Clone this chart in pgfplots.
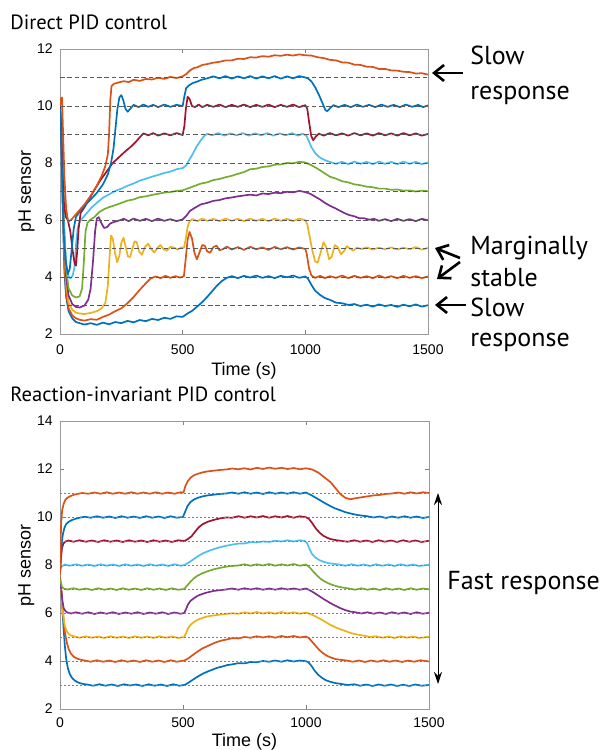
\documentclass[border=0pt]{standalone}
\usepackage{fontspec}
\setmainfont{Liberation Sans}
\newfontfamily\ptsans{PT Sans}
\usepackage{pgfplots}
\pgfplotsset{compat=1.18}
\usetikzlibrary{arrows.meta}

\definecolor{mblue}{rgb}{0,0.447,0.741}
\definecolor{morange}{rgb}{0.850,0.325,0.098}
\definecolor{myellow}{rgb}{0.929,0.694,0.125}
\definecolor{mpurple}{rgb}{0.494,0.184,0.556}
\definecolor{mgreen}{rgb}{0.466,0.674,0.188}
\definecolor{mcyan}{rgb}{0.301,0.745,0.933}
\definecolor{mred}{rgb}{0.635,0.078,0.184}

\pgfplotsset{
  panel/.style={
    scale only axis, no markers,
    xmin=0, xmax=1500, xtick={0,500,1000,1500},
    axis line style={black!40},
    tick style={black!50}, major tick length=2pt, tick align=inside,
    ticklabel style={font=\fontsize{7}{8}\selectfont, inner sep=0pt},
    yticklabel style={anchor=east, xshift=-3.5pt},
    xticklabel style={anchor=north},
    /pgf/number format/assume math mode=true,
    /pgf/number format/1000 sep={},
    xlabel={Time (s)}, ylabel={pH sensor},
    label style={font=\fontsize{9}{10}\selectfont, anchor=center},
    every axis plot/.append style={line width=0.85pt, line join=round},
  },
}

\begin{document}
\begin{tikzpicture}
\path[use as bounding box] (0,0) rectangle (301.5pt,375pt);

% ---------------- top: direct PID ----------------
\begin{axis}[panel, at={(30pt,208pt)}, anchor=south west, width=184pt, height=142.5pt,
  ymin=2, ymax=12, ytick={2,4,...,12},
  xticklabel style={yshift=-5pt},
  xlabel style={at={(axis description cs:0.5,-0.13)}},
  ylabel style={at={(axis description cs:-0.091,0.5)}}]
% setpoint 3/4/3
\addplot[mblue] coordinates {(0,9.8)(6,8.5)(12,6.0)(18,4.2)(25,3.3)(35,2.8)(50,2.55)(65,2.42)(80,2.38)(100,2.33)(125,2.38)(150,2.32)(175,2.4)(200,2.34)(225,2.42)(250,2.38)(275,2.46)(300,2.41)(325,2.49)(350,2.45)(375,2.53)(400,2.49)(425,2.57)(450,2.53)(475,2.62)(500,2.6)(520,2.72)(540,2.82)(560,2.97)(580,3.12)(600,3.3)(620,3.5)(640,3.7)(660,3.86)(680,3.97)(700,4.03)(725,3.96)(750,4.04)(775,3.98)(800,4.05)(825,3.97)(850,4.03)(875,3.96)(900,4.04)(925,3.99)(950,4.05)(975,3.97)(1000,4.02)(1010,3.95)(1025,3.72)(1040,3.52)(1060,3.37)(1080,3.26)(1100,3.2)(1125,3.1)(1150,3.08)(1175,3.02)(1200,3.05)(1225,2.98)(1250,3.03)(1275,2.96)(1300,3.04)(1325,2.98)(1350,3.02)(1375,2.95)(1400,3.03)(1425,2.97)(1450,3.04)(1475,2.96)(1500,3.01)};
% setpoint 4/5/4
\addplot[morange] coordinates {(0,10.0)(6,8.8)(12,6.5)(18,4.5)(25,3.4)(35,2.9)(50,2.65)(65,2.55)(80,2.5)(100,2.47)(125,2.52)(150,2.5)(175,2.6)(200,2.68)(225,2.8)(250,2.9)(275,3.08)(300,3.3)(325,3.55)(350,3.78)(370,3.95)(390,4.02)(410,3.96)(430,4.04)(450,3.97)(470,4.03)(490,3.98)(505,4.03)(512,4.6)(520,5.3)(528,5.58)(538,5.35)(548,4.85)(558,4.62)(568,4.85)(580,5.12)(590,5.1)(600,4.9)(612,4.85)(625,5.05)(638,5.1)(650,4.94)(665,4.98)(680,5.07)(700,4.96)(725,5.05)(750,4.95)(775,5.06)(800,4.97)(825,5.04)(850,4.95)(875,5.06)(900,4.97)(925,5.05)(950,4.96)(975,5.04)(1000,4.98)(1006,4.8)(1015,4.3)(1025,4.05)(1040,3.97)(1060,4.04)(1080,3.96)(1100,4.03)(1125,3.97)(1150,4.05)(1175,3.96)(1200,4.04)(1225,3.97)(1250,4.03)(1275,3.96)(1300,4.05)(1325,3.97)(1350,4.03)(1375,3.96)(1400,4.04)(1425,3.97)(1450,4.03)(1475,3.96)(1500,4.02)};
% setpoint 5/6/5
\addplot[myellow] coordinates {(0,10.0)(6,9.0)(12,7.0)(18,5.0)(25,3.8)(35,3.1)(50,2.85)(65,2.75)(80,2.72)(100,2.7)(125,2.74)(150,2.8)(170,2.9)(185,3.1)(195,3.7)(202,4.7)(208,5.45)(215,5.35)(224,4.85)(233,4.52)(242,4.75)(250,5.2)(259,5.38)(268,5.05)(277,4.72)(286,4.7)(295,5.0)(304,5.25)(313,5.22)(322,4.9)(334,4.78)(346,5.05)(359,5.17)(372,4.98)(384,4.86)(397,5.02)(409,5.12)(422,4.98)(435,4.92)(450,5.06)(465,5.03)(480,4.96)(495,5.04)(505,5.02)(512,5.3)(520,5.75)(528,5.96)(540,6.03)(560,5.96)(580,6.05)(600,5.97)(625,6.04)(650,5.96)(675,6.05)(700,5.97)(725,6.04)(750,5.96)(775,6.05)(800,5.97)(825,6.04)(850,5.96)(875,6.05)(900,5.97)(925,6.04)(950,5.96)(975,6.05)(1000,5.99)(1008,5.85)(1018,5.4)(1028,4.95)(1040,4.55)(1050,4.5)(1062,4.85)(1074,5.22)(1085,5.05)(1097,4.62)(1108,4.72)(1120,5.12)(1132,5.05)(1145,4.8)(1157,4.9)(1169,5.08)(1182,5.0)(1195,4.92)(1210,5.03)(1230,4.98)(1250,5.04)(1275,4.96)(1300,5.03)(1325,4.97)(1350,5.04)(1375,4.96)(1400,5.03)(1425,4.97)(1450,5.05)(1475,4.96)(1500,5.02)};
% setpoint 6/7/6
\addplot[mpurple] coordinates {(0,10.0)(6,9.0)(12,7.2)(18,5.2)(25,4.0)(35,3.35)(50,3.05)(65,2.95)(80,2.93)(100,3.0)(115,3.2)(125,3.6)(135,4.6)(143,5.6)(150,6.05)(158,6.1)(168,5.9)(180,5.72)(192,5.75)(205,5.88)(220,5.93)(240,5.98)(260,6.04)(280,5.96)(300,6.05)(325,5.97)(350,6.04)(375,5.96)(400,6.05)(425,5.97)(450,6.03)(475,5.96)(500,6.02)(515,6.15)(530,6.32)(550,6.43)(575,6.55)(600,6.6)(625,6.67)(650,6.7)(675,6.76)(700,6.79)(725,6.83)(750,6.86)(775,6.89)(800,6.86)(825,6.93)(850,6.91)(875,6.96)(900,6.94)(925,6.99)(950,6.97)(975,7.02)(1000,6.98)(1020,6.92)(1040,6.82)(1060,6.72)(1080,6.6)(1100,6.5)(1120,6.42)(1140,6.33)(1160,6.24)(1180,6.17)(1200,6.13)(1220,6.06)(1240,6.06)(1260,6.01)(1280,6.04)(1300,5.97)(1325,6.03)(1350,5.96)(1375,6.04)(1400,5.97)(1425,6.03)(1450,5.96)(1475,6.04)(1500,5.99)};
% setpoint 7/8/7
\addplot[mgreen] coordinates {(0,10.0)(6,9.2)(12,7.5)(18,5.6)(25,4.3)(35,3.6)(50,3.35)(65,3.28)(80,3.32)(90,3.6)(97,4.5)(104,5.6)(112,5.9)(125,6.02)(140,6.1)(160,6.28)(180,6.38)(200,6.45)(225,6.52)(250,6.6)(275,6.68)(300,6.72)(325,6.8)(350,6.83)(375,6.88)(400,6.92)(425,6.96)(450,6.98)(475,7.02)(500,7.04)(525,7.12)(550,7.2)(575,7.28)(600,7.32)(625,7.4)(650,7.44)(675,7.5)(700,7.55)(725,7.62)(750,7.68)(775,7.78)(800,7.8)(825,7.86)(850,7.88)(875,7.94)(900,7.95)(925,8.0)(950,7.99)(975,8.04)(1000,8.02)(1025,7.92)(1050,7.8)(1075,7.66)(1100,7.52)(1125,7.45)(1150,7.36)(1175,7.32)(1200,7.25)(1225,7.22)(1250,7.17)(1275,7.15)(1300,7.1)(1325,7.1)(1350,7.06)(1375,7.07)(1400,7.03)(1425,7.04)(1450,7.0)(1475,7.03)(1500,7.01)};
% setpoint 8/9/8
\addplot[mcyan] coordinates {(0,9.9)(6,8.8)(12,7.0)(18,5.4)(25,4.5)(32,4.05)(42,3.95)(52,4.05)(60,4.4)(66,5.2)(72,5.7)(80,5.95)(95,6.1)(110,6.25)(130,6.45)(150,6.6)(175,6.78)(200,6.9)(225,7.02)(250,7.1)(275,7.2)(300,7.28)(325,7.38)(350,7.45)(375,7.52)(400,7.58)(425,7.65)(450,7.7)(475,7.78)(500,7.82)(515,7.92)(525,8.08)(540,8.3)(555,8.55)(570,8.75)(585,8.92)(600,9.03)(620,8.97)(645,9.05)(670,8.96)(695,9.04)(720,8.97)(745,9.05)(770,8.96)(795,9.04)(820,8.97)(845,9.05)(870,8.96)(895,9.04)(920,8.97)(945,9.05)(970,8.96)(990,9.03)(1005,8.95)(1015,8.75)(1025,8.55)(1040,8.35)(1055,8.22)(1070,8.14)(1085,8.08)(1100,8.04)(1125,7.97)(1150,8.04)(1175,7.96)(1200,8.05)(1225,7.97)(1250,8.04)(1275,7.96)(1300,8.05)(1325,7.97)(1350,8.04)(1375,7.96)(1400,8.05)(1425,7.97)(1450,8.04)(1475,7.96)(1500,8.02)};
% setpoint 9/10/9
\addplot[mred] coordinates {(0,10.1)(5,9.2)(10,7.8)(16,6.6)(24,6.1)(32,6.0)(42,5.6)(52,4.9)(60,4.45)(65,4.4)(70,4.9)(76,5.7)(84,6.25)(100,6.45)(120,6.75)(140,7.05)(165,7.4)(190,7.7)(215,8.0)(240,8.2)(265,8.4)(290,8.58)(310,8.75)(325,8.9)(340,9.04)(360,8.97)(380,9.05)(400,8.96)(425,9.04)(450,8.97)(475,9.05)(500,8.98)(507,9.3)(513,9.9)(520,10.32)(528,10.25)(538,10.0)(550,9.96)(565,10.05)(580,9.96)(600,10.04)(625,9.97)(650,10.05)(675,9.96)(700,10.04)(725,9.97)(750,10.05)(775,9.96)(800,10.04)(825,9.97)(850,10.05)(875,9.96)(900,10.04)(925,9.97)(950,10.05)(975,9.96)(1000,10.03)(1008,9.9)(1016,9.4)(1024,8.95)(1032,8.8)(1042,8.92)(1055,9.03)(1075,8.96)(1100,9.05)(1125,8.97)(1150,9.04)(1175,8.96)(1200,9.05)(1225,8.97)(1250,9.04)(1275,8.96)(1300,9.05)(1325,8.97)(1350,9.04)(1375,8.96)(1400,9.05)(1425,8.97)(1450,9.04)(1475,8.96)(1500,9.02)};
% setpoint 10/11/10
\addplot[mblue] coordinates {(0,9.9)(5,8.8)(10,7.0)(16,5.4)(24,4.5)(32,4.1)(40,4.3)(48,5.0)(56,5.7)(65,6.1)(80,6.3)(100,6.5)(125,6.72)(150,6.95)(175,7.25)(195,7.6)(208,8.0)(218,8.5)(226,9.2)(234,9.9)(242,10.3)(250,10.38)(258,10.2)(267,9.9)(276,9.8)(288,9.92)(300,10.04)(320,9.96)(340,10.05)(360,9.97)(380,10.04)(400,9.96)(425,10.05)(450,9.97)(475,10.04)(500,10.0)(506,10.3)(514,10.62)(525,10.72)(540,10.8)(560,10.86)(580,10.93)(600,10.97)(625,11.04)(650,10.97)(675,11.05)(700,10.96)(725,11.04)(750,10.97)(775,11.05)(800,10.96)(825,11.04)(850,10.97)(875,11.05)(900,10.96)(925,11.04)(950,10.97)(975,11.05)(1000,11.0)(1012,10.96)(1025,10.86)(1040,10.66)(1055,10.4)(1070,10.1)(1082,9.85)(1090,9.82)(1100,9.92)(1115,10.03)(1135,9.96)(1160,10.04)(1185,9.96)(1210,10.05)(1235,9.97)(1260,10.04)(1285,9.96)(1310,10.05)(1335,9.97)(1360,10.04)(1385,9.96)(1410,10.05)(1435,9.97)(1460,10.04)(1480,9.96)(1500,10.02)};
% setpoint 11/12/11
\addplot[morange] coordinates {(0,10.0)(4,10.25)(8,10.3)(12,9.2)(18,7.5)(25,6.4)(33,5.95)(45,6.0)(60,6.15)(80,6.35)(100,6.55)(125,6.85)(150,7.2)(170,7.55)(185,7.9)(195,8.3)(200,9.0)(205,10.2)(210,10.7)(220,10.78)(240,10.83)(260,10.87)(280,10.84)(300,10.92)(325,10.88)(350,10.95)(375,10.93)(400,10.99)(425,10.95)(450,11.02)(475,10.98)(500,11.04)(515,11.12)(530,11.25)(545,11.33)(560,11.36)(580,11.44)(600,11.47)(625,11.52)(650,11.55)(675,11.6)(700,11.6)(725,11.66)(750,11.65)(775,11.71)(800,11.7)(825,11.75)(850,11.73)(875,11.78)(900,11.76)(925,11.8)(950,11.77)(975,11.81)(1000,11.78)(1025,11.77)(1050,11.71)(1075,11.68)(1100,11.62)(1125,11.6)(1150,11.53)(1175,11.52)(1200,11.45)(1225,11.44)(1250,11.38)(1275,11.37)(1300,11.3)(1325,11.3)(1350,11.25)(1375,11.24)(1400,11.2)(1425,11.19)(1450,11.14)(1475,11.15)(1500,11.1)};
\pgfplotsinvokeforeach{3,...,11}{
  \addplot[black!65, line width=0.45pt, dash pattern=on 2.3pt off 1.4pt] coordinates {(0,#1)(1500,#1)};
}
\end{axis}

% ---------------- bottom: reaction-invariant PID ----------------
\begin{axis}[panel, at={(30pt,20.5pt)}, anchor=south west, width=184.5pt, height=144pt,
  ymin=2, ymax=14, ytick={2,4,...,14},
  xticklabel style={yshift=-4pt},
  xlabel style={at={(axis description cs:0.5,-0.115)}},
  ylabel style={at={(axis description cs:-0.091,0.5)}}]
% setpoint 3/4/3
\addplot[mblue] coordinates {(0,7.5)(5,6.9)(10,6.1)(15,5.3)(20,4.6)(25,4.1)(32,3.7)(40,3.45)(50,3.28)(62,3.17)(75,3.1)(90,3.05)(110,3.02)(135,2.97)(160,3.03)(185,2.97)(210,3.02)(235,2.96)(260,3.03)(285,2.98)(310,3.02)(335,2.96)(360,3.03)(385,2.97)(410,3.02)(435,2.96)(460,3.03)(485,2.97)(505,3.0)(520,3.08)(540,3.22)(560,3.35)(580,3.47)(600,3.56)(620,3.64)(640,3.72)(660,3.77)(680,3.83)(700,3.86)(725,3.91)(750,3.9)(775,3.96)(800,3.95)(825,4.0)(850,3.97)(875,4.02)(900,3.97)(925,4.03)(950,3.98)(975,4.02)(1000,3.99)(1010,3.95)(1022,3.8)(1035,3.6)(1050,3.42)(1065,3.3)(1080,3.2)(1100,3.13)(1120,3.08)(1145,3.04)(1170,3.0)(1195,3.03)(1220,2.97)(1245,3.02)(1270,2.96)(1295,3.02)(1320,2.97)(1345,3.02)(1370,2.96)(1395,3.01)(1420,2.96)(1445,3.02)(1470,2.97)(1500,3.0)};
% setpoint 4/5/4
\addplot[morange] coordinates {(0,7.5)(5,7.0)(10,6.3)(15,5.7)(20,5.2)(27,4.8)(35,4.5)(45,4.3)(57,4.17)(70,4.1)(85,4.05)(100,4.02)(125,3.97)(150,4.03)(175,3.97)(200,4.02)(225,3.96)(250,4.03)(275,3.97)(300,4.02)(325,3.96)(350,4.03)(375,3.97)(400,4.02)(425,3.96)(450,4.03)(475,3.97)(505,4.02)(520,4.1)(540,4.25)(560,4.4)(580,4.53)(600,4.62)(620,4.72)(640,4.8)(660,4.86)(680,4.9)(700,4.95)(725,4.94)(750,5.0)(775,4.97)(800,5.03)(825,4.98)(850,5.03)(875,4.97)(900,5.04)(925,4.99)(950,5.04)(975,4.98)(1000,5.02)(1012,4.95)(1025,4.8)(1040,4.62)(1055,4.45)(1070,4.32)(1085,4.22)(1100,4.15)(1120,4.08)(1140,4.05)(1165,4.02)(1190,3.97)(1215,4.02)(1240,3.96)(1265,4.02)(1290,3.97)(1315,4.03)(1340,3.97)(1365,4.02)(1390,3.96)(1415,4.02)(1440,3.97)(1465,4.03)(1500,3.98)};
% setpoint 5/6/5
\addplot[myellow] coordinates {(0,7.4)(5,6.9)(10,6.2)(15,5.75)(20,5.45)(27,5.25)(35,5.13)(45,5.06)(60,5.02)(80,4.97)(105,5.03)(130,4.97)(155,5.02)(180,4.96)(205,5.03)(230,4.97)(255,5.02)(280,4.96)(305,5.03)(330,4.97)(355,5.02)(380,4.96)(405,5.03)(430,4.97)(455,5.02)(480,4.96)(505,5.0)(512,5.15)(520,5.35)(530,5.5)(545,5.63)(560,5.72)(580,5.8)(600,5.86)(625,5.9)(650,5.93)(675,5.96)(700,5.99)(725,5.97)(750,6.03)(775,5.98)(800,6.04)(825,5.98)(850,6.03)(875,5.97)(900,6.04)(925,5.98)(950,6.03)(975,5.97)(1000,6.02)(1020,5.95)(1040,5.85)(1060,5.74)(1080,5.62)(1100,5.5)(1120,5.4)(1140,5.32)(1160,5.25)(1180,5.17)(1200,5.12)(1220,5.08)(1240,5.05)(1260,5.0)(1285,5.03)(1310,4.97)(1335,5.02)(1360,4.96)(1385,5.03)(1410,4.97)(1435,5.02)(1460,4.96)(1500,5.01)};
% setpoint 6/7/6
\addplot[mpurple] coordinates {(0,7.4)(5,7.0)(10,6.5)(15,6.2)(22,6.08)(30,6.02)(45,5.98)(65,6.03)(90,5.97)(115,6.03)(140,5.96)(165,6.02)(190,5.97)(215,6.03)(240,5.96)(265,6.02)(290,5.97)(315,6.03)(340,5.96)(365,6.02)(390,5.97)(415,6.03)(440,5.96)(465,6.02)(490,5.97)(505,6.0)(512,6.15)(520,6.35)(530,6.5)(545,6.62)(560,6.72)(580,6.8)(600,6.86)(625,6.92)(650,6.95)(675,6.98)(700,7.02)(725,6.97)(750,7.03)(775,6.98)(800,7.03)(825,6.97)(850,7.02)(875,6.97)(900,7.03)(925,6.98)(950,7.02)(975,6.97)(1000,7.02)(1015,6.95)(1030,6.86)(1045,6.76)(1060,6.66)(1075,6.56)(1090,6.47)(1105,6.38)(1120,6.3)(1140,6.2)(1160,6.12)(1180,6.06)(1200,6.03)(1225,5.98)(1250,6.03)(1275,5.97)(1300,6.02)(1325,5.96)(1350,6.03)(1375,5.97)(1400,6.02)(1425,5.96)(1450,6.03)(1475,5.97)(1500,6.01)};
% setpoint 7/8/7
\addplot[mgreen] coordinates {(0,7.4)(8,7.1)(15,7.02)(30,6.98)(55,7.03)(80,6.97)(105,7.02)(130,6.96)(155,7.03)(180,6.97)(205,7.02)(230,6.96)(255,7.03)(280,6.97)(305,7.02)(330,6.96)(355,7.03)(380,6.97)(405,7.02)(430,6.96)(455,7.03)(480,6.97)(505,7.0)(515,7.12)(530,7.3)(545,7.45)(560,7.56)(580,7.66)(600,7.74)(625,7.82)(650,7.88)(675,7.93)(700,7.96)(725,7.98)(750,8.03)(775,7.97)(800,8.03)(825,7.98)(850,8.04)(875,7.97)(900,8.03)(925,7.98)(950,8.04)(975,7.97)(1000,8.02)(1015,7.9)(1030,7.72)(1045,7.56)(1060,7.42)(1075,7.32)(1090,7.24)(1110,7.16)(1130,7.1)(1150,7.06)(1175,7.02)(1200,6.97)(1225,7.03)(1250,6.97)(1275,7.02)(1300,6.96)(1325,7.03)(1350,6.97)(1375,7.02)(1400,6.96)(1425,7.03)(1450,6.97)(1475,7.02)(1500,6.99)};
% setpoint 8/9/8
\addplot[mcyan] coordinates {(0,7.8)(8,7.95)(20,8.02)(40,7.97)(65,8.03)(90,7.97)(115,8.02)(140,7.96)(165,8.03)(190,7.97)(215,8.02)(240,7.96)(265,8.03)(290,7.97)(315,8.02)(340,7.96)(365,8.03)(390,7.97)(415,8.02)(440,7.96)(465,8.03)(490,7.97)(505,8.0)(520,8.08)(540,8.22)(560,8.36)(580,8.48)(600,8.57)(625,8.66)(650,8.74)(675,8.8)(700,8.85)(725,8.89)(750,8.9)(775,8.95)(800,8.94)(825,8.98)(850,8.96)(875,9.01)(900,8.98)(925,9.03)(950,8.98)(975,9.03)(995,9.0)(1005,8.9)(1015,8.65)(1025,8.45)(1040,8.3)(1055,8.2)(1070,8.14)(1090,8.08)(1110,8.05)(1135,8.02)(1160,7.97)(1185,8.03)(1210,7.97)(1235,8.02)(1260,7.96)(1285,8.03)(1310,7.97)(1335,8.02)(1360,7.96)(1385,8.03)(1410,7.97)(1435,8.02)(1460,7.96)(1500,8.01)};
% setpoint 9/10/9
\addplot[mred] coordinates {(0,7.6)(4,8.3)(8,8.7)(14,8.9)(22,8.98)(35,9.02)(55,8.97)(80,9.03)(105,8.97)(130,9.02)(155,8.96)(180,9.03)(205,8.97)(230,9.02)(255,8.96)(280,9.03)(305,8.97)(330,9.02)(355,8.96)(380,9.03)(405,8.97)(430,9.02)(455,8.96)(480,9.03)(505,9.0)(520,9.08)(535,9.2)(550,9.4)(565,9.58)(580,9.7)(600,9.8)(625,9.88)(650,9.94)(675,9.98)(700,9.97)(725,10.03)(750,9.97)(775,10.03)(800,9.98)(825,10.04)(850,9.97)(875,10.03)(900,9.98)(925,10.04)(950,9.97)(975,10.03)(1000,9.99)(1012,9.92)(1025,9.75)(1040,9.52)(1055,9.35)(1070,9.22)(1085,9.14)(1100,9.08)(1120,9.04)(1145,9.0)(1170,8.97)(1195,9.03)(1220,8.97)(1245,9.02)(1270,8.96)(1295,9.03)(1320,8.97)(1345,9.02)(1370,8.96)(1395,9.03)(1420,8.97)(1445,9.02)(1470,8.96)(1500,9.01)};
% setpoint 10/11/10
\addplot[mblue] coordinates {(0,7.6)(3,8.3)(7,8.9)(12,9.3)(18,9.55)(25,9.7)(35,9.8)(50,9.88)(65,9.93)(80,9.97)(100,10.01)(125,9.97)(150,10.03)(175,9.97)(200,10.02)(225,9.96)(250,10.03)(275,9.97)(300,10.02)(325,9.96)(350,10.03)(375,9.97)(400,10.02)(425,9.96)(450,10.03)(475,9.97)(500,10.0)(508,10.2)(518,10.45)(530,10.62)(545,10.73)(560,10.8)(580,10.86)(600,10.9)(625,10.93)(650,10.96)(675,10.98)(700,11.02)(725,10.97)(750,11.03)(775,10.97)(800,11.02)(825,10.96)(850,11.03)(875,10.97)(900,11.02)(925,10.97)(950,11.03)(975,10.97)(1000,11.02)(1020,10.92)(1040,10.8)(1060,10.68)(1080,10.56)(1100,10.45)(1120,10.35)(1140,10.28)(1160,10.2)(1180,10.15)(1200,10.1)(1225,10.06)(1250,10.03)(1275,9.98)(1300,10.02)(1325,9.96)(1350,10.02)(1375,9.97)(1400,10.03)(1425,9.97)(1450,10.02)(1475,9.96)(1500,10.0)};
% setpoint 11/12/11
\addplot[morange] coordinates {(0,7.6)(2,8.8)(5,9.8)(9,10.3)(15,10.55)(22,10.72)(30,10.8)(40,10.86)(55,10.92)(70,10.96)(90,11.0)(115,10.97)(140,11.02)(165,10.97)(190,11.03)(215,10.97)(240,11.02)(265,10.97)(290,11.03)(315,10.97)(340,11.02)(365,10.97)(390,11.03)(415,10.97)(440,11.02)(465,10.97)(490,11.03)(502,11.02)(510,11.3)(520,11.5)(532,11.65)(545,11.74)(560,11.8)(580,11.86)(600,11.9)(625,11.93)(650,11.96)(675,11.98)(700,12.02)(725,11.99)(750,12.03)(775,11.98)(800,12.05)(825,12.0)(850,12.06)(875,12.01)(900,12.05)(925,12.0)(950,12.04)(975,11.99)(1000,12.03)(1025,11.98)(1050,11.85)(1075,11.65)(1100,11.45)(1120,11.2)(1140,10.95)(1160,10.8)(1180,10.74)(1200,10.78)(1225,10.82)(1250,10.86)(1275,10.9)(1300,10.92)(1325,10.96)(1350,10.98)(1375,11.02)(1400,10.97)(1425,11.03)(1450,10.98)(1475,11.03)(1500,11.0)};
\pgfplotsinvokeforeach{3,...,11}{
  \addplot[black!50, line width=0.35pt, dash pattern=on 1pt off 1pt] coordinates {(0,#1)(1500,#1)};
}
\end{axis}

% ---------------- titles and annotations (pixel units) ----------------
\begin{scope}[x=0.5pt,y=0.5pt]
  \node[anchor=base west, inner sep=0pt, font=\ptsans\fontsize{10.3}{12}\selectfont] at (10,720) {Direct PID control};
  \node[anchor=base west, inner sep=0pt, font=\ptsans\fontsize{10.3}{12}\selectfont] at (10,348) {Reaction-invariant PID control};
  \begin{scope}[font=\ptsans\fontsize{13}{15}\selectfont]
    \node[anchor=base west, inner sep=0pt] at (470,685) {Slow};
    \node[anchor=base west, inner sep=0pt] at (470,650) {response};
    \node[anchor=base west, inner sep=0pt] at (470,495) {Marginally};
    \node[anchor=base west, inner sep=0pt] at (470,463) {stable};
    \node[anchor=base west, inner sep=0pt] at (470,433) {Slow};
    \node[anchor=base west, inner sep=0pt] at (470,403) {response};
    \node[anchor=base west, inner sep=0pt] at (447,160) {Fast response};
  \end{scope}
  \begin{scope}[line width=1.3pt, -{Straight Barb[length=5pt, width=8pt]}]
    \draw (463,677) -- (432,677);
    \draw (466,445) -- (435,445);
    \draw (460,492) -- (435,502);
    \draw (460,488) -- (437,471);
  \end{scope}
  \draw[line width=0.5pt, {Stealth[length=6pt, width=4pt]}-{Stealth[length=6pt, width=4pt]}] (438,257) -- (438,66);
\end{scope}
\end{tikzpicture}
\end{document}
